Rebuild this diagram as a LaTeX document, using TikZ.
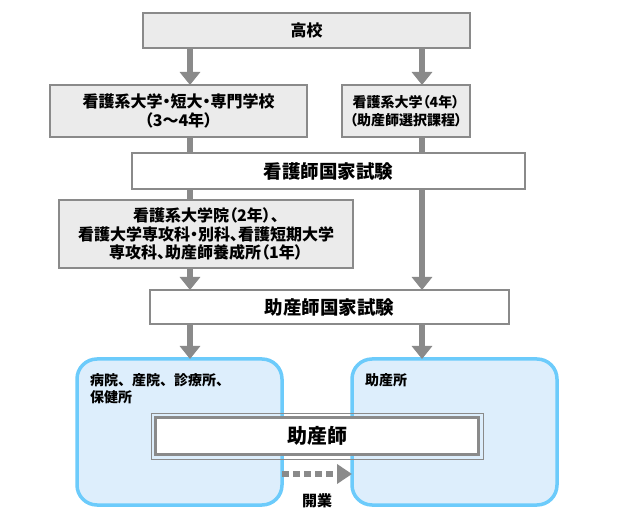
\documentclass[tikz,border=0pt]{standalone}
\usepackage{fontspec}
\setmainfont{Noto Sans CJK JP}
\newfontfamily\pfont{Noto Sans CJK JP}[RawFeature=+palt]
\usetikzlibrary{arrows.meta}
\definecolor{boxgray}{HTML}{EBEBEB}
\definecolor{linegray}{HTML}{8A8A8A}
\definecolor{skyfill}{HTML}{DDEEFC}
\definecolor{skyline}{HTML}{6CCBFB}
\tikzset{
  graybox/.style={draw=linegray, line width=2.5pt, fill=boxgray, inner sep=0pt, outer sep=0pt,
    align=center, font=\pfont\bfseries\fontsize{16}{19}\selectfont},
  whitebox/.style={graybox, fill=white, font=\pfont\bfseries\fontsize{18.5}{20}\selectfont},
  placebox/.style={draw=skyline, fill=skyfill, line width=3.5pt, rounded corners=20pt,
    inner sep=0pt, outer sep=0pt},
  placetext/.style={anchor=north west, align=left, inner sep=0pt,
    font=\bfseries\fontsize{14}{17}\selectfont},
  arr/.style={linegray, line width=6pt, -{Triangle[width=20pt,length=13pt]}},
  link/.style={linegray, line width=6pt},
}
\begin{document}
\begin{tikzpicture}[x=1pt,y=-1pt]
\useasboundingbox (0,0) rectangle (621,518);
\coordinate (colL) at (190,0);
\coordinate (colR) at (422,0);

\node[graybox, minimum width=327pt, minimum height=35pt] (hs) at (306.5,30.5) {高校};
\node[graybox, minimum width=257pt, minimum height=52pt] (nu) at (178.5,111) {看護系大学・短大・専門学校\\（3～4年）};
\node[graybox, minimum width=128pt, minimum height=52pt, font=\pfont\bfseries\fontsize{14}{18}\selectfont] (nu4) at (406,111) {看護系大学（4年）\\（助産師選択課程）};
\node[whitebox, minimum width=393pt, minimum height=36pt] (ne) at (328.5,171) {看護師国家試験};
\node[graybox, minimum width=294pt, minimum height=68pt, font=\pfont\bfseries\fontsize{16}{18.5}\selectfont] (gs) at (206,234) {看護系大学院（2年）、\\看護大学専攻科・別科、看護短期大学\\専攻科、助産師養成所（1年）};
\node[whitebox, minimum width=359pt, minimum height=34pt] (me) at (329.5,307) {助産師国家試験};

\node[placebox, minimum width=205pt, minimum height=146pt] (hosp) at (179.5,432) {};
\node[placebox, minimum width=205pt, minimum height=146pt] (mc) at (454.5,432) {};
\node[placetext] (hospt) at (90,373) {病院、産院、診療所、\\保健所};
\node[placetext] (mct) at (365,373) {助産所};

% arrows
\draw[arr] (hs.south -| colL) -- (nu.north -| colL);
\draw[arr] (hs.south -| colR) -- (nu4.north -| colR);
\draw[link] (nu.south -| colL) -- (ne.north -| colL);
\draw[link] (nu4.south -| colR) -- (ne.north -| colR);
\draw[link] (ne.south -| colL) -- (gs.north -| colL);
\draw[arr] (gs.south -| colL) -- (me.north -| colL);
\draw[arr] (ne.south -| colR) -- (me.north -| colR);
\draw[arr] (me.south -| colL) -- (hosp.north -| colL);
\draw[arr] (me.south -| colR) -- (mc.north -| colR);

% midwife
\node[draw=linegray, line width=3.5pt, fill=white, inner sep=0pt, outer sep=0pt,
  minimum width=323pt, minimum height=37pt, font=\bfseries\fontsize{20}{22}\selectfont] (mw) at (317,436) {助産師};
\draw[linegray, line width=0.8pt] ([xshift=-4.5pt,yshift=4.5pt]mw.north west) rectangle ([xshift=4.5pt,yshift=-4.5pt]mw.south east);

\draw[linegray, line width=6pt, dash pattern=on 7pt off 4pt, -{Triangle[width=19pt,length=15pt]}]
  ([yshift=-42pt]hosp.east) -- ([yshift=-42pt]mc.west);
\node[font=\bfseries\fontsize{15}{17}\selectfont] (open) at (317,501) {開業};
\end{tikzpicture}
\end{document}
